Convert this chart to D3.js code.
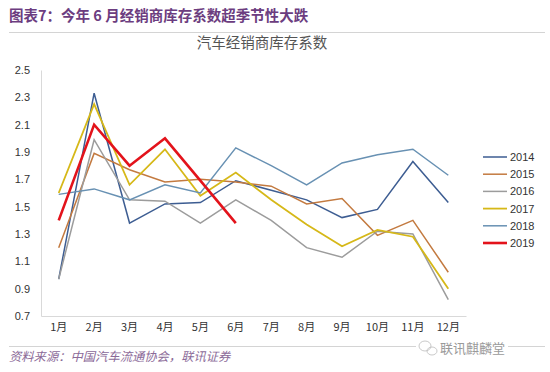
<!DOCTYPE html>
<html>
<head>
<meta charset="utf-8">
<script src="https://cdn.jsdelivr.net/npm/d3@7"></script>
<style>
  body { margin: 0; background: #fff; }
  svg { display: block; font-family: "Liberation Sans", "Noto Sans CJK SC", sans-serif; }
</style>
</head>
<body>
<svg id="chart"></svg>
<script>
const WIDTH = 550;
const HEIGHT = 372;
const MARGINS = {top: 70, bottom: 56, left: 41, right: 84};

// data
const months = ["1月", "2月", "3月", "4月", "5月", "6月", "7月", "8月", "9月", "10月", "11月", "12月"];
const years = ["2014", "2015", "2016", "2017", "2018", "2019"];
const y2014 = [0.97, 2.33, 1.38, 1.52, 1.53, 1.69, 1.62, 1.55, 1.42, 1.48, 1.83, 1.53];
const y2015 = [1.20, 1.89, 1.77, 1.68, 1.70, 1.68, 1.65, 1.52, 1.56, 1.29, 1.40, 1.02];
const y2016 = [0.97, 1.99, 1.55, 1.54, 1.38, 1.55, 1.40, 1.20, 1.13, 1.32, 1.30, 0.82];
const y2017 = [1.60, 2.25, 1.66, 1.92, 1.58, 1.75, 1.55, 1.37, 1.21, 1.33, 1.28, 0.90];
const y2018 = [1.59, 1.63, 1.55, 1.66, 1.60, 1.93, 1.80, 1.66, 1.82, 1.88, 1.92, 1.73];
const y2019 = [1.40, 2.10, 1.80, 2.00, 1.69, 1.38];
const yTicks = [0.7, 0.9, 1.1, 1.3, 1.5, 1.7, 1.9, 2.1, 2.3, 2.5];

const seriesValues = [y2014, y2015, y2016, y2017, y2018, y2019];
const colors = ["#3d5d92", "#c37a40", "#9c9c9c", "#d6b818", "#6891b3", "#e3131b"];
const widths = [1.5, 1.5, 1.5, 1.8, 1.5, 2.6];

let svg = d3.select('#chart')
    .attr('width', WIDTH)
    .attr('height', HEIGHT);

// header
svg.append('text')
    .attr('x', 9)
    .attr('y', 21)
    .style('font-family', '"Noto Sans CJK SC", sans-serif')
    .style('font-size', '14.5px')
    .style('font-weight', 'bold')
    .style('fill', '#6c3d80')
    .text('图表7：今年 6 月经销商库存系数超季节性大跌');

svg.append('line')
    .attr('x1', 9).attr('x2', 545)
    .attr('y1', 32.5).attr('y2', 32.5)
    .style('stroke', '#d4d4d4');

svg.append('text')
    .attr('x', 262)
    .attr('y', 48)
    .style('text-anchor', 'middle')
    .style('font-family', '"Noto Sans CJK SC", sans-serif')
    .style('font-size', '14.5px')
    .style('fill', '#555')
    .text('汽车经销商库存系数');

// scales
const x = d3.scaleBand()
    .domain(months)
    .range([MARGINS.left, WIDTH - MARGINS.right]);

const y = d3.scaleLinear()
    .domain([0.7, 2.5])
    .range([HEIGHT - MARGINS.bottom, MARGINS.top]);

// axes
let yAxis = svg.append('g')
    .attr('transform', `translate(${MARGINS.left},0)`)
    .call(d3.axisLeft(y).tickValues(yTicks).tickFormat(d3.format('.1f')).tickSize(0).tickPadding(11));
yAxis.select('.domain').style('stroke', '#d9d9d9');
yAxis.selectAll('text')
    .style('font-family', '"Liberation Sans", sans-serif')
    .style('font-size', '11px')
    .style('fill', '#333');

let xAxis = svg.append('g')
    .attr('transform', `translate(0,${HEIGHT - MARGINS.bottom})`)
    .call(d3.axisBottom(x).tickSize(0).tickPadding(7));
xAxis.select('.domain').style('stroke', '#d9d9d9');
xAxis.selectAll('text')
    .style('font-family', '"Noto Sans CJK SC", sans-serif')
    .style('font-size', '11px')
    .style('fill', '#333');

// lines
const line = d3.line()
    .x((d, i) => x(months[i]) + x.bandwidth() / 2)
    .y(d => y(d));

svg.append('g')
    .selectAll('path')
    .data(seriesValues)
    .enter()
    .append('path')
    .attr('d', d => line(d))
    .style('fill', 'none')
    .style('stroke', (d, i) => colors[i])
    .style('stroke-width', (d, i) => widths[i])
    .style('stroke-linejoin', 'miter');

// legend
let legend = svg.append('g')
    .selectAll('g')
    .data(years)
    .enter()
    .append('g')
    .attr('transform', (d, i) => `translate(483,${157 + i * 17.2})`);

legend.append('line')
    .attr('x1', 0).attr('x2', 24)
    .style('stroke', (d, i) => colors[i])
    .style('stroke-width', (d, i) => widths[i]);

legend.append('text')
    .attr('x', 27)
    .attr('y', 4)
    .style('font-size', '11px')
    .style('fill', '#333')
    .text(d => d);

// footer
svg.append('line')
    .attr('x1', 9).attr('x2', 416)
    .attr('y1', 346.5).attr('y2', 346.5)
    .style('stroke', '#d4d4d4');
svg.append('line')
    .attr('x1', 508).attr('x2', 545)
    .attr('y1', 346.5).attr('y2', 346.5)
    .style('stroke', '#d4d4d4');

// watermark icon
let icon = svg.append('g').style('fill', 'none').style('stroke', '#bbb').style('stroke-width', 0.8);
icon.append('ellipse').attr('cx', 425).attr('cy', 346).attr('rx', 6).attr('ry', 5);
icon.append('ellipse').attr('cx', 432).attr('cy', 351).attr('rx', 5).attr('ry', 4);

svg.append('text')
    .attr('x', 440)
    .attr('y', 353)
    .style('font-family', '"Noto Sans CJK SC", sans-serif')
    .style('font-size', '13px')
    .style('fill', '#9a9a9a')
    .text('联讯麒麟堂');

svg.append('text')
    .attr('x', 9)
    .attr('y', 361)
    .style('font-family', '"Noto Sans CJK SC", sans-serif')
    .style('font-size', '12.3px')
    .style('font-style', 'italic')
    .style('fill', '#8b6a98')
    .text('资料来源：中国汽车流通协会，联讯证券');
</script>
</body>
</html>
